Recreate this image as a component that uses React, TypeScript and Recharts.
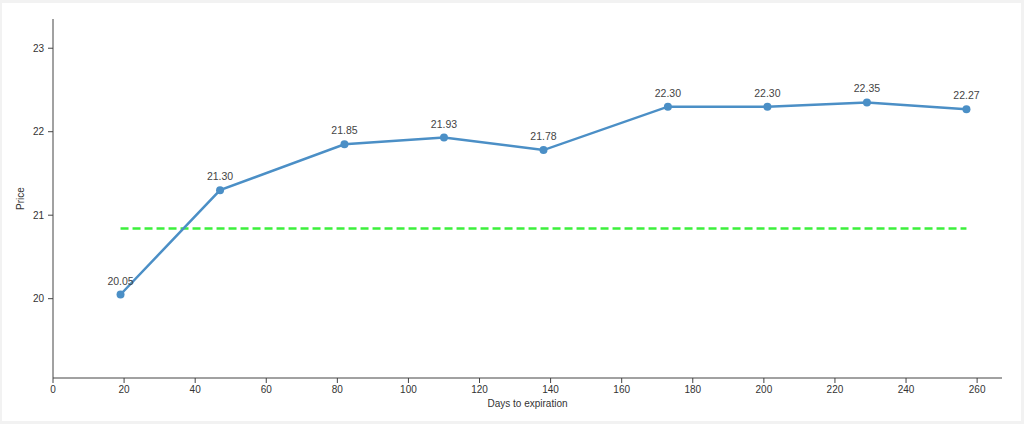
import React from 'react';
import { LineChart, Line, XAxis, YAxis, LabelList } from 'recharts';

const days = [19, 47, 82, 110, 138, 173, 201, 229, 257];
const prices = [20.05, 21.3, 21.85, 21.93, 21.78, 22.3, 22.3, 22.35, 22.27];
const refDays = [19, 257];
const refPrices = [20.84, 20.84];
const xTicks = [0, 20, 40, 60, 80, 100, 120, 140, 160, 180, 200, 220, 240, 260];
const yTicks = [20, 21, 22, 23];

const data = days.map((d, i) => ({ day: d, price: prices[i] }));
const refData = refDays.map((d, i) => ({ day: d, price: refPrices[i] }));

const FONT = '"Liberation Sans", Arial, sans-serif';

const PriceLabel = (props: any) => {
  const vb = props.viewBox || { x: 0, y: 0, width: 0, height: 0 };
  const cx = vb.x + 20;
  const cy = vb.y + vb.height / 2;
  return (
    <text
      x={cx}
      y={cy}
      transform={`rotate(-90 ${cx} ${cy})`}
      textAnchor="middle"
      dominantBaseline="central"
      fontSize={10}
      fill="#333"
      fontFamily={FONT}
    >
      Price
    </text>
  );
};

export default function App() {
  return (
    <div style={{ position: 'absolute', left: 0, top: 0, width: 1024, height: 424, background: '#f2f2f2' }}>
      <div style={{ position: 'absolute', left: 2, top: 3, width: 1019, height: 418, background: '#ffffff' }} />
      <div style={{ position: 'absolute', left: 0, top: 0 }}>
        <LineChart
          width={1024}
          height={424}
          margin={{ top: 19, right: 22, left: 0, bottom: 16 }}
          style={{ fontFamily: FONT }}
        >
          <XAxis
            type="number"
            dataKey="day"
            domain={[0, 'dataMax + 10']}
            ticks={xTicks}
            interval={0}
            height={30}
            tickSize={5}
            tickMargin={3}
            stroke="#444"
            tick={{ fontSize: 10, fill: '#333', fontFamily: FONT }}
            allowDuplicatedCategory={false}
            label={{ value: 'Days to expiration', position: 'insideBottom', offset: 1, fontSize: 10, fill: '#333', fontFamily: FONT }}
          />
          <YAxis
            type="number"
            dataKey="price"
            domain={['dataMin - 1', 'dataMax + 1']}
            ticks={yTicks}
            interval={0}
            width={53}
            tickSize={5}
            tickMargin={4}
            stroke="#444"
            tick={{ fontSize: 10, fill: '#333', fontFamily: FONT }}
            label={{ content: (p: any) => <PriceLabel {...p} /> }}
          />
          <Line
            data={refData}
            dataKey="price"
            type="linear"
            stroke="#3cf03c"
            strokeWidth={2.5}
            strokeDasharray="8 4"
            dot={false}
            activeDot={false}
            isAnimationActive={false}
          />
          <Line
            data={data}
            dataKey="price"
            type="linear"
            stroke="#4b8fc6"
            strokeWidth={2.5}
            dot={{ r: 4, fill: '#4b8fc6', stroke: '#4b8fc6', strokeWidth: 0 }}
            activeDot={false}
            isAnimationActive={false}
          >
            <LabelList
              dataKey="price"
              position="top"
              offset={10}
              formatter={(v: any) => Number(v).toFixed(2)}
              style={{ fontSize: 10.5, fill: '#444', fontFamily: FONT }}
            />
          </Line>
        </LineChart>
      </div>
    </div>
  );
}
